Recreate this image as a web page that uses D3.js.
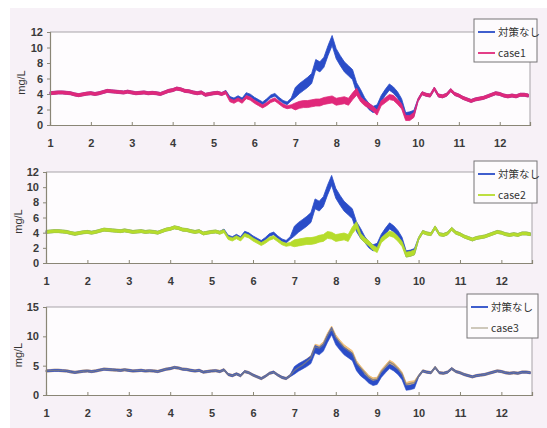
<!DOCTYPE html>
<html>
<head>
<meta charset="utf-8">
<script src="https://cdn.jsdelivr.net/npm/d3@7"></script>
<style>
  body { margin: 0; background: #fff; }
  svg text { font-family: "Liberation Sans", Arial, sans-serif; }
</style>
</head>
<body>
<div class="chart"></div>
<script>
// x grid: one value every 0.1 month, Jan (1) .. late Dec (12.7)
var months = d3.range(118).map(function(i) { return +(1 + i / 10).toFixed(1); });
var xTicks = [1, 2, 3, 4, 5, 6, 7, 8, 9, 10, 11, 12];
var yTicksSmall = [0, 2, 4, 6, 8, 10, 12];
var yTicksLarge = [0, 5, 10, 15];

// 対策なし (no measures)
var baseline = [
  4.1, 4.15, 4.2, 4.2, 4.15, 4.1, 3.95, 3.85, 3.95, 4.05,
  4.1, 4.0, 4.1, 4.25, 4.4, 4.35, 4.3, 4.25, 4.2, 4.3,
  4.2, 4.1, 4.15, 4.2, 4.1, 4.15, 4.1, 4.0, 4.2, 4.4,
  4.5, 4.7, 4.6, 4.4, 4.35, 4.2, 4.1, 4.2, 3.9, 4.0,
  4.1, 4.15, 4.0, 4.3, 3.5, 3.3, 3.6, 3.3, 4.0, 3.8,
  3.4, 3.1, 2.8, 3.2, 3.7, 3.9, 3.4, 3.0, 2.8, 3.3,
  4.2, 4.7, 5.1, 5.5, 6.0, 7.8, 7.5, 8.1, 9.6, 10.9,
  9.2, 8.3, 7.5, 7.0, 6.5, 4.8, 3.9, 3.1, 2.4, 2.0,
  2.2, 3.4, 4.2, 4.9, 4.5, 3.9, 3.0, 1.2, 1.3, 1.5,
  3.2, 4.1, 3.9, 3.8, 4.7, 3.8, 3.7, 3.9, 4.5, 4.0,
  3.8, 3.5, 3.3, 3.1, 3.3, 3.4, 3.5, 3.7, 3.9, 4.1,
  4.0, 3.8, 3.7, 3.8, 3.7, 3.9, 3.9, 3.8
];

var case1 = [
  4.1, 4.15, 4.2, 4.2, 4.15, 4.1, 3.95, 3.85, 3.95, 4.05,
  4.1, 4.0, 4.1, 4.25, 4.4, 4.35, 4.3, 4.25, 4.2, 4.3,
  4.2, 4.1, 4.15, 4.2, 4.1, 4.15, 4.1, 4.0, 4.2, 4.4,
  4.5, 4.7, 4.6, 4.4, 4.35, 4.2, 4.1, 4.2, 3.9, 4.0,
  4.1, 4.15, 4.0, 4.2, 3.2, 3.0, 3.3, 3.0, 3.6, 3.4,
  3.0, 2.7, 2.4, 2.7, 3.1, 3.3, 2.9, 2.5, 2.3, 2.4,
  2.4, 2.6, 2.7, 2.7, 2.8, 2.9, 2.9, 3.1, 3.2, 3.3,
  3.0, 3.1, 3.2, 3.0, 3.7, 4.3, 3.3, 2.8, 2.5, 2.1,
  1.6, 2.8, 3.2, 3.6, 3.5, 3.0, 2.4, 0.9, 0.9, 1.3,
  3.2, 4.1, 3.9, 3.8, 4.7, 3.8, 3.7, 3.9, 4.5, 4.0,
  3.8, 3.5, 3.3, 3.1, 3.3, 3.4, 3.5, 3.7, 3.9, 4.1,
  4.0, 3.8, 3.7, 3.8, 3.7, 3.9, 3.9, 3.8
];

var case2 = [
  4.1, 4.15, 4.2, 4.2, 4.15, 4.1, 3.95, 3.85, 3.95, 4.05,
  4.1, 4.0, 4.1, 4.25, 4.4, 4.35, 4.3, 4.25, 4.2, 4.3,
  4.2, 4.1, 4.15, 4.2, 4.1, 4.15, 4.1, 4.0, 4.2, 4.4,
  4.5, 4.7, 4.6, 4.4, 4.35, 4.2, 4.1, 4.2, 3.9, 4.0,
  4.1, 4.15, 4.0, 4.2, 3.3, 3.1, 3.4, 3.1, 3.7, 3.5,
  3.1, 2.8, 2.5, 2.8, 3.2, 3.4, 3.0, 2.6, 2.4, 2.5,
  2.6, 2.7, 2.8, 2.9, 2.9, 3.0, 3.2, 3.3, 3.7, 3.6,
  3.3, 3.4, 3.5, 3.3, 4.3, 5.0, 3.6, 3.0, 2.6, 2.0,
  1.7, 3.0, 3.5, 3.9, 3.7, 3.2, 2.5, 1.1, 1.2, 1.4,
  3.2, 4.1, 3.9, 3.8, 4.7, 3.8, 3.7, 3.9, 4.5, 4.0,
  3.8, 3.5, 3.3, 3.1, 3.3, 3.4, 3.5, 3.7, 3.9, 4.1,
  4.0, 3.8, 3.7, 3.8, 3.7, 3.9, 3.9, 3.8
];

var case3 = [
  4.1, 4.15, 4.2, 4.2, 4.15, 4.1, 3.95, 3.85, 3.95, 4.05,
  4.1, 4.0, 4.1, 4.25, 4.4, 4.35, 4.3, 4.25, 4.2, 4.3,
  4.2, 4.1, 4.15, 4.2, 4.1, 4.15, 4.1, 4.0, 4.2, 4.4,
  4.5, 4.7, 4.6, 4.4, 4.35, 4.2, 4.1, 4.2, 3.9, 4.0,
  4.1, 4.15, 4.0, 4.3, 3.5, 3.3, 3.6, 3.3, 4.0, 3.8,
  3.4, 3.1, 2.8, 3.2, 3.7, 3.9, 3.4, 3.0, 2.8, 3.3,
  4.2, 4.7, 5.1, 5.7, 6.3, 8.2, 8.0, 8.6, 10.1, 11.3,
  9.8, 8.9, 8.1, 7.6, 7.1, 5.4, 4.6, 3.8, 3.0, 2.6,
  2.7, 4.0, 4.8, 5.6, 5.2, 4.5, 3.6, 1.8, 2.0, 2.1,
  3.2, 4.1, 3.9, 3.8, 4.7, 3.8, 3.7, 3.9, 4.5, 4.0,
  3.8, 3.5, 3.3, 3.1, 3.3, 3.4, 3.5, 3.7, 3.9, 4.1,
  4.0, 3.8, 3.7, 3.8, 3.7, 3.9, 3.9, 3.8
];

// daily spread of each trace (band thickness, mg/L), by month range
var baselineBand = [[1, 7.0, 0.35], [7.0, 8.7, 1.3], [8.7, 10.0, 0.8], [10.0, 13, 0.35]];
var caseBand = [[1, 7.0, 0.4], [7.0, 8.6, 0.9], [8.6, 10.0, 0.65], [10.0, 13, 0.4]];

var width = 547, height = 428;

var svg = d3.select('.chart').append('svg')
  .attr('width', width)
  .attr('height', height);

svg.append('rect')
  .attr('x', 10).attr('y', 8)
  .attr('width', width - 10).attr('height', height - 8)
  .attr('fill', '#f7f1f7');

function bandAt(band, m) {
  for (var i = 0; i < band.length; i++) {
    if (m >= band[i][0] && m < band[i][1]) return band[i][2];
  }
  return band[band.length - 1][2];
}

var panels = [
  { left: 50, right: 530, top: 32, bottom: 125, titleX: 25, yMax: 12, yTicks: yTicksSmall,
    caseName: 'case1', caseValues: case1, caseColor: '#e0287a',
    legend: { x: 474, y: 19, w: 63, h: 43 } },
  { left: 46, right: 532, top: 172, bottom: 263, titleX: 22, yMax: 12, yTicks: yTicksSmall,
    caseName: 'case2', caseValues: case2, caseColor: '#b6dc2c',
    legend: { x: 474, y: 161, w: 63, h: 42 } },
  { left: 46, right: 532, top: 307, bottom: 395, titleX: 22, yMax: 15, yTicks: yTicksLarge,
    caseName: 'case3', caseValues: case3, caseColor: '#f0bf78',
    legend: { x: 467, y: 294, w: 71, h: 44 } }
];

var blueColor = '#2a4cc8';

panels.forEach(function(p, idx) {
  var g = svg.append('g').attr('class', 'panel');

  var x = d3.scaleLinear().domain([1, 12.74]).range([p.left, p.right]);
  var y = d3.scaleLinear().domain([0, p.yMax]).range([p.bottom, p.top]);

  g.append('rect')
    .attr('x', p.left).attr('y', p.top)
    .attr('width', p.right - p.left).attr('height', p.bottom - p.top)
    .attr('fill', '#fefcfe');

  // frame (top / right)
  g.append('path')
    .attr('d', 'M' + p.left + ',' + p.top + 'H' + p.right + 'V' + p.bottom)
    .attr('fill', 'none')
    .attr('stroke', '#a7a3a8')
    .attr('stroke-width', 1);

  function bandArea(values, band) {
    return d3.area()
      .x(function(d, i) { return x(months[i]); })
      .y0(function(d, i) { return y(d - bandAt(band, months[i]) / 2); })
      .y1(function(d, i) { return y(d + bandAt(band, months[i]) / 2); })
      .curve(d3.curveLinear)(values);
  }
  var line = d3.line()
    .x(function(d, i) { return x(months[i]); })
    .y(function(d) { return y(d); });

  if (idx < 2) {
    g.append('path').attr('d', bandArea(baseline, baselineBand))
      .attr('fill', blueColor).attr('stroke', blueColor).attr('stroke-width', 0.8);
    g.append('path').attr('d', bandArea(p.caseValues, caseBand))
      .attr('fill', p.caseColor).attr('stroke', p.caseColor).attr('stroke-width', 0.8);
  } else {
    g.append('path').attr('d', bandArea(p.caseValues, caseBand))
      .attr('fill', p.caseColor).attr('stroke', p.caseColor).attr('stroke-width', 1);
    g.append('path').attr('d', bandArea(baseline, baselineBand))
      .attr('fill', blueColor).attr('stroke', blueColor).attr('stroke-width', 0.6);
    g.append('path').attr('d', line(p.caseValues))
      .attr('fill', 'none').attr('stroke', '#7b7d84').attr('stroke-width', 1.3)
      .attr('stroke-opacity', 0.85);
  }

  var xAxis = d3.axisBottom(x).tickValues(xTicks).tickSize(-3).tickPadding(14)
    .tickFormat(d3.format('d'));
  var gx = g.append('g')
    .attr('transform', 'translate(0,' + p.bottom + ')')
    .call(xAxis);
  gx.select('.domain').attr('stroke', '#8a8676').attr('stroke-width', 1.2);
  gx.selectAll('.tick line').attr('stroke', '#8a8676');
  gx.selectAll('text').attr('font-size', 11).attr('font-weight', 'bold').attr('fill', '#3a3a3a');

  var yAxis = d3.axisLeft(y).tickValues(p.yTicks).tickSize(3).tickPadding(4);
  var gy = g.append('g')
    .attr('transform', 'translate(' + p.left + ',0)')
    .call(yAxis);
  gy.select('.domain').attr('stroke', '#8a8676').attr('stroke-width', 1.2);
  gy.selectAll('.tick line').attr('stroke', '#8a8676');
  gy.selectAll('text').attr('font-size', 11).attr('font-weight', 'bold').attr('fill', '#3a3a3a');

  g.append('text')
    .attr('transform', 'translate(' + p.titleX + ',' + ((p.top + p.bottom) / 2 + 4) + ') rotate(-90)')
    .attr('text-anchor', 'middle')
    .attr('font-size', 11)
    .attr('fill', '#333')
    .text('mg/L');

  // legend
  var L = p.legend;
  var lg = g.append('g').attr('class', 'legend');
  lg.append('rect')
    .attr('x', L.x).attr('y', L.y).attr('width', L.w).attr('height', L.h)
    .attr('fill', '#fdfbfd').attr('stroke', '#767476').attr('stroke-width', 1);
  var entries = [
    { name: '対策なし', color: blueColor },
    { name: p.caseName, color: idx < 2 ? p.caseColor : '#c9c2b4' }
  ];
  entries.forEach(function(e, k) {
    var ly = L.y + 13 + k * 21;
    lg.append('line')
      .attr('x1', L.x + 4).attr('x2', L.x + 21)
      .attr('y1', ly).attr('y2', ly)
      .attr('stroke', e.color).attr('stroke-width', 1.8);
    lg.append('text')
      .attr('x', L.x + 24).attr('y', ly + 4)
      .attr('font-size', 10.5)
      .attr('fill', '#333')
      .style('font-family', '"Noto Sans CJK JP", sans-serif')
      .text(e.name);
  });
});
</script>
</body>
</html>
